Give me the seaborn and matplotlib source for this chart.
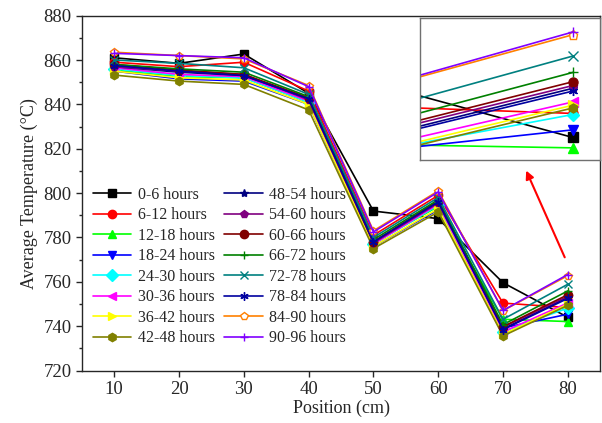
import matplotlib
matplotlib.use("Agg")
import matplotlib.pyplot as plt
from matplotlib.ticker import MultipleLocator
import seaborn as sns

# data
positions = [10, 20, 30, 40, 50, 60, 70, 80]
labels = ["0-6 hours", "6-12 hours", "12-18 hours", "18-24 hours",
          "24-30 hours", "30-36 hours", "36-42 hours", "42-48 hours",
          "48-54 hours", "54-60 hours", "60-66 hours", "66-72 hours",
          "72-78 hours", "78-84 hours", "84-90 hours", "90-96 hours"]
h00_06 = [861.0, 858.5, 862.7, 845.0, 791.9, 788.5, 759.6, 744.0]
h06_12 = [859.0, 857.0, 859.0, 846.0, 781.0, 799.0, 750.4, 748.4]
h12_18 = [855.5, 852.5, 852.0, 841.0, 777.5, 794.0, 743.1, 742.1]
h18_24 = [855.0, 851.5, 850.5, 840.0, 776.0, 792.5, 739.2, 745.4]
h24_30 = [856.0, 853.0, 852.0, 841.0, 777.0, 794.5, 737.5, 748.2]
h30_36 = [856.5, 853.5, 852.5, 841.5, 777.0, 795.0, 737.4, 750.5]
h36_42 = [855.0, 852.0, 851.0, 840.0, 776.0, 793.0, 736.3, 749.9]
h42_48 = [853.2, 850.5, 849.0, 837.5, 775.0, 791.5, 735.6, 749.4]
h48_54 = [857.0, 854.5, 853.0, 842.5, 778.0, 796.0, 738.8, 753.0]
h54_60 = [857.0, 855.0, 853.5, 842.0, 777.5, 795.5, 739.5, 753.5]
h60_66 = [858.0, 855.5, 853.5, 843.0, 778.0, 796.5, 739.8, 754.2]
h66_72 = [858.0, 856.0, 854.5, 843.5, 779.0, 797.0, 740.7, 755.9]
h72_78 = [860.0, 858.5, 856.5, 844.5, 780.0, 798.0, 743.1, 758.9]
h78_84 = [857.5, 855.0, 853.0, 842.5, 778.0, 796.0, 738.5, 752.5]
h84_90 = [863.5, 862.0, 860.5, 848.5, 783.0, 801.0, 747.0, 762.8]
h90_96 = [863.0, 862.0, 861.0, 848.0, 782.5, 800.5, 747.1, 763.3]
series = [h00_06, h06_12, h12_18, h18_24, h24_30, h30_36, h36_42, h42_48,
          h48_54, h54_60, h60_66, h66_72, h72_78, h78_84, h84_90, h90_96]

colors = ["#000000", "#FF0000", "#00FF00", "#0000FF", "#00FFFF", "#FF00FF",
          "#FFFF00", "#808000", "#000080", "#800080", "#800000", "#008000",
          "#008080", "#0000A0", "#FF8000", "#8000FF"]
markers = ["s", "o", "^", "v", "D", "<", ">", "h",
           "*", "p", "o", "+", "x", (6, 2, 0), "p", "+"]

sns.set_style("ticks")
plt.rcParams["font.family"] = ["Liberation Serif", "DejaVu Serif"]
plt.rcParams["mathtext.fontset"] = "stix"

fig = plt.figure(figsize=(6.02, 4.23), dpi=100)
ax = fig.add_axes([0.136, 0.124, 0.861, 0.839])


def draw(axis, ms):
    for vals, lab, c, m in zip(series, labels, colors, markers):
        sns.lineplot(x=positions, y=vals, ax=axis, color=c, marker=m,
                     markersize=ms, linewidth=1.2, label=lab,
                     markeredgecolor=c, markeredgewidth=1.0,
                     markerfacecolor="white" if lab == "84-90 hours" else c)


draw(ax, 6)
ax.set_xlim(5, 85)
ax.set_ylim(720, 880)
ax.xaxis.set_major_locator(MultipleLocator(10))
ax.yaxis.set_major_locator(MultipleLocator(20))
ax.yaxis.set_minor_locator(MultipleLocator(10))
ax.tick_params(axis="both", which="major", direction="out", length=4,
               labelsize=13.5, width=1)
ax.tick_params(axis="y", which="minor", direction="out", length=2.5, width=1)
for s in ax.spines.values():
    s.set_linewidth(1.0)
    s.set_visible(True)
ax.set_xlabel("Position (cm)", fontsize=13, labelpad=1)
ax.set_ylabel("Average Temperature (\u00b0C)", fontsize=13, labelpad=4)

ax.legend(ncol=2, loc="lower left", bbox_to_anchor=(0.0, 0.037),
          fontsize=11.5, frameon=False, handlelength=2.4, handletextpad=0.4,
          columnspacing=0.6, labelspacing=0.28, borderaxespad=0.3)

# zoomed inset near the 80 cm end
ax_in = fig.add_axes([0.698, 0.622, 0.299, 0.336])
draw(ax_in, 6.5)
if ax_in.get_legend():
    ax_in.get_legend().remove()
ax_in.set_xlim(75.13, 80.87)
ax_in.set_ylim(739.9, 765.9)
ax_in.set_xticks([])
ax_in.set_yticks([])
ax_in.set_xlabel("")
ax_in.set_ylabel("")
for s in ax_in.spines.values():
    s.set_color("#707070")
    s.set_linewidth(1.0)

ax.annotate("", xy=(73.4, 811.3), xytext=(79.7, 769.9),
            arrowprops=dict(arrowstyle="-|>", color="red", lw=1.5,
                            mutation_scale=12))

fig.savefig("out.png", dpi=100)
